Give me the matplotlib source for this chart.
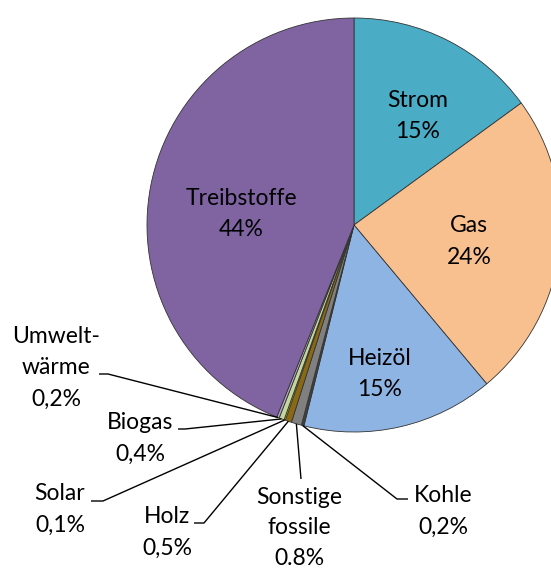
import numpy as np
import matplotlib.pyplot as plt

labels = ["Strom", "Gas", "Heizöl", "Kohle", "Sonstige\nfossile", "Holz",
          "Solar", "Biogas", "Umwelt-\nwärme", "Treibstoffe"]
values = [15, 24, 15, 0.2, 0.8, 0.5, 0.1, 0.4, 0.2, 44]
pct_text = ["15%", "24%", "15%", "0,2%", "0.8%", "0,5%", "0,1%", "0,4%", "0,2%", "44%"]
colors = ["#4BACC6", "#F9C08F", "#8EB4E3", "#404040", "#808080", "#8B6914",
          "#FFFF00", "#C3D69B", "#B3A2C7", "#8064A2"]

plt.rcParams['font.family'] = ['Lato', 'DejaVu Sans']

W, H = 551, 570
fig = plt.figure(figsize=(W/100, H/100), dpi=100)
ax = fig.add_axes([0, 0, 1, 1])

cx, cy, R = 354, H - 225, 207

wedges, _ = ax.pie(values, colors=colors, startangle=90, counterclock=False,
                   center=(cx, cy), radius=R, frame=True,
                   wedgeprops=dict(edgecolor='#333333', linewidth=0.6))
ax.set_xlim(0, W); ax.set_ylim(0, H)
ax.set_aspect('equal')
ax.axis('off')

fs = 16.5

def txt(x, y_base, s, pitch=31.5):
    # y_base = baseline of first line, in image pixels from top
    for k, line in enumerate(s.split("\n")):
        ax.text(x, H - (y_base + k*pitch), line, ha='center', va='baseline',
                fontsize=fs, color='black')

# inner labels: (x centre, first baseline)
inner = {0: (418, 107), 1: (469, 232), 2: (379.5, 365), 9: (241.5, 205)}
for i, (x, yb) in inner.items():
    txt(x, yb, labels[i] + "\n" + pct_text[i])

# outer labels: text pos, then leader path (elbow points in image px)
outer = {
    8: ((56, 343), [(99, 374), (108, 374)]),
    7: ((140, 429), [(178, 429), (185, 429)]),
    6: ((60, 500), [(91, 501), (103, 501)]),
    5: ((167, 523), [(194, 523), (204, 523)]),
    4: ((299, 504), [(301, 479)]),
    3: ((443, 502), [(408, 499), (397, 499)]),
}
for i, ((x, yb), path) in outer.items():
    if i == 4:
        for k, line in enumerate((labels[i] + "\n" + pct_text[i]).split("\n")):
            ax.text(x, H - (yb + k*30.5), line, ha='center', va='baseline',
                    fontsize=fs, color='black')
    else:
        txt(x, yb, labels[i] + "\n" + pct_text[i])
    w = wedges[i]
    mid = np.deg2rad((w.theta1 + w.theta2) / 2)
    ex, ey = cx + R*np.cos(mid), cy + R*np.sin(mid)
    xs = [p[0] for p in path] + [ex]
    ys = [H - p[1] for p in path] + [ey]
    ax.plot(xs, ys, color='black', lw=1.0, solid_capstyle='butt')

fig.savefig("out.png", dpi=100)
